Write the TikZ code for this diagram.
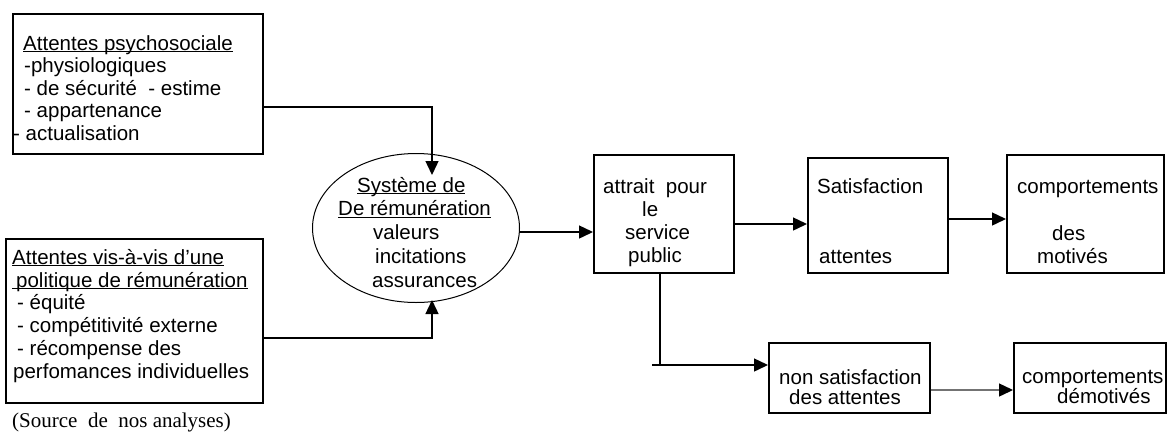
\documentclass[tikz,border=0pt]{standalone}
\usepackage{fontspec}
\setmainfont{Liberation Sans}
\newfontfamily\srcfont{Liberation Serif}
\usetikzlibrary{arrows.meta,shapes.geometric,calc}
\newcommand\st{\rule{0pt}{16pt}}
\newcommand\undl[1]{\setbox0\hbox{#1}\rlap{\rule[-2.2pt]{\wd0}{1pt}}\box0}
\newcommand\fsa{\fontsize{20.5}{22.5}\selectfont}
\newcommand\fsb{\fontsize{20.5}{22.8}\selectfont}
\newcommand\fsc{\fontsize{20.5}{23.7}\selectfont}
\newcommand\fsd{\fontsize{20.5}{23}\selectfont}
\newcommand\fse{\fontsize{20.5}{20}\selectfont}
\tikzset{
  box/.style={draw, line width=1.5pt, inner sep=0pt, anchor=north west},
  txt/.style={align=left, anchor=north west, inner sep=0pt},
  arr/.style={line width=1.4pt, -{Triangle[length=14pt,width=13pt,color=black]}},
  ln/.style={line width=1.4pt},
}
\begin{document}
\begin{tikzpicture}[x=1pt,y=-1pt]
\useasboundingbox (0,0) rectangle (1169,432);
% boxes
\node[box, minimum width=250pt, minimum height=140pt] (psy) at (12,13) {};
\node[box, minimum width=257pt, minimum height=164pt] (pol) at (5,238) {};
\node[draw, ellipse, line width=1pt, inner sep=0pt, minimum width=207pt, minimum height=149pt] (sys) at (416,228) {};
\node[box, minimum width=140pt, minimum height=118pt] (attr) at (593,154) {};
\node[box, minimum width=140pt, minimum height=115pt] (sat) at (807,157) {};
\node[box, minimum width=157pt, minimum height=118pt] (comp) at (1006,154) {};
\node[box, minimum width=161pt, minimum height=70pt] (nsat) at (768,342) {};
\node[box, minimum width=152pt, minimum height=70pt] (dem) at (1013,342) {};
% texts
\node[txt, font=\fsa] (psyT) at (13,34) {\st\hspace*{10pt}\undl{Attentes psychosociale}\\
\hspace*{11pt}-physiologiques\\
\hspace*{11pt}- de sécurité\ \ - estime\\
\hspace*{11pt}- appartenance\\
- actualisation};
\node[txt, font=\fsb] (polT) at (12,248) {\st\undl{Attentes vis-à-vis d’une}\\
\undl{\hspace*{4pt}politique de rémunération}\\
\hspace*{5pt}- équité\\
\hspace*{5pt}- compétitivité externe\\
\hspace*{5pt}- récompense des\\
\hspace*{1pt}perfomances individuelles};
\node[txt, font=\fsc] (sysT) at (338,176) {\st\hspace*{19pt}\undl{Système de}\\
\undl{De rémunération}\\
\hspace*{35pt}valeurs\\
\hspace*{37pt}incitations\\
\hspace*{34pt}assurances};
\node[txt, font=\fsd] (attrT) at (603,177) {\st attrait\ \ pour\\
\hspace*{39pt}le\\
\hspace*{22pt}service\\
\hspace*{25pt}public};
\node[txt, font=\fsd] (satT) at (817,177) {\st Satisfaction\\[47pt]
\hspace*{2pt}attentes};
\node[txt, font=\fsd] (compT) at (1017,177) {\st comportements\\[24pt]
\hspace*{35pt}des\\
\hspace*{20pt}motivés};
\node[txt, font=\fse] (nsatT) at (779,368) {\st non satisfaction\\
\hspace*{10pt}des attentes};
\node[txt, font=\fse] (demT) at (1022,367) {\st comportements\\
\hspace*{35pt}démotivés};
\node[anchor=base west, inner sep=0pt, font=\srcfont\fontsize{21}{22}\selectfont] (src) at (12,427) {(Source\ \ de\ \ nos analyses)};
% connectors
\coordinate (t1) at (432,175);
\coordinate (t2) at (432,300);
\coordinate (br) at (660,365);
\coordinate (brs) at (652,365);
\draw[arr] ($(psy.north east)+(0,94)$) -| (t1);
\draw[arr] ($(pol.north east)+(0,100)$) -| (t2);
\draw[arr] ($(sys.east)+(0,4)$) -- ($(attr.north west)+(0,78)$);
\draw[arr] ($(attr.north east)+(0,70)$) -- ($(sat.north west)+(0,67)$);
\draw[arr] ($(sat.north east)+(0,62)$) -- ($(comp.north west)+(0,65)$);
\draw[ln] (br |- attr.south) -- (br);
\draw[arr] (brs) -- (brs -| nsat.west);
\draw[arr, draw=black!55] ($(nsat.north east)+(0,48)$) -- ($(dem.north west)+(0,48)$);
\end{tikzpicture}
\end{document}
